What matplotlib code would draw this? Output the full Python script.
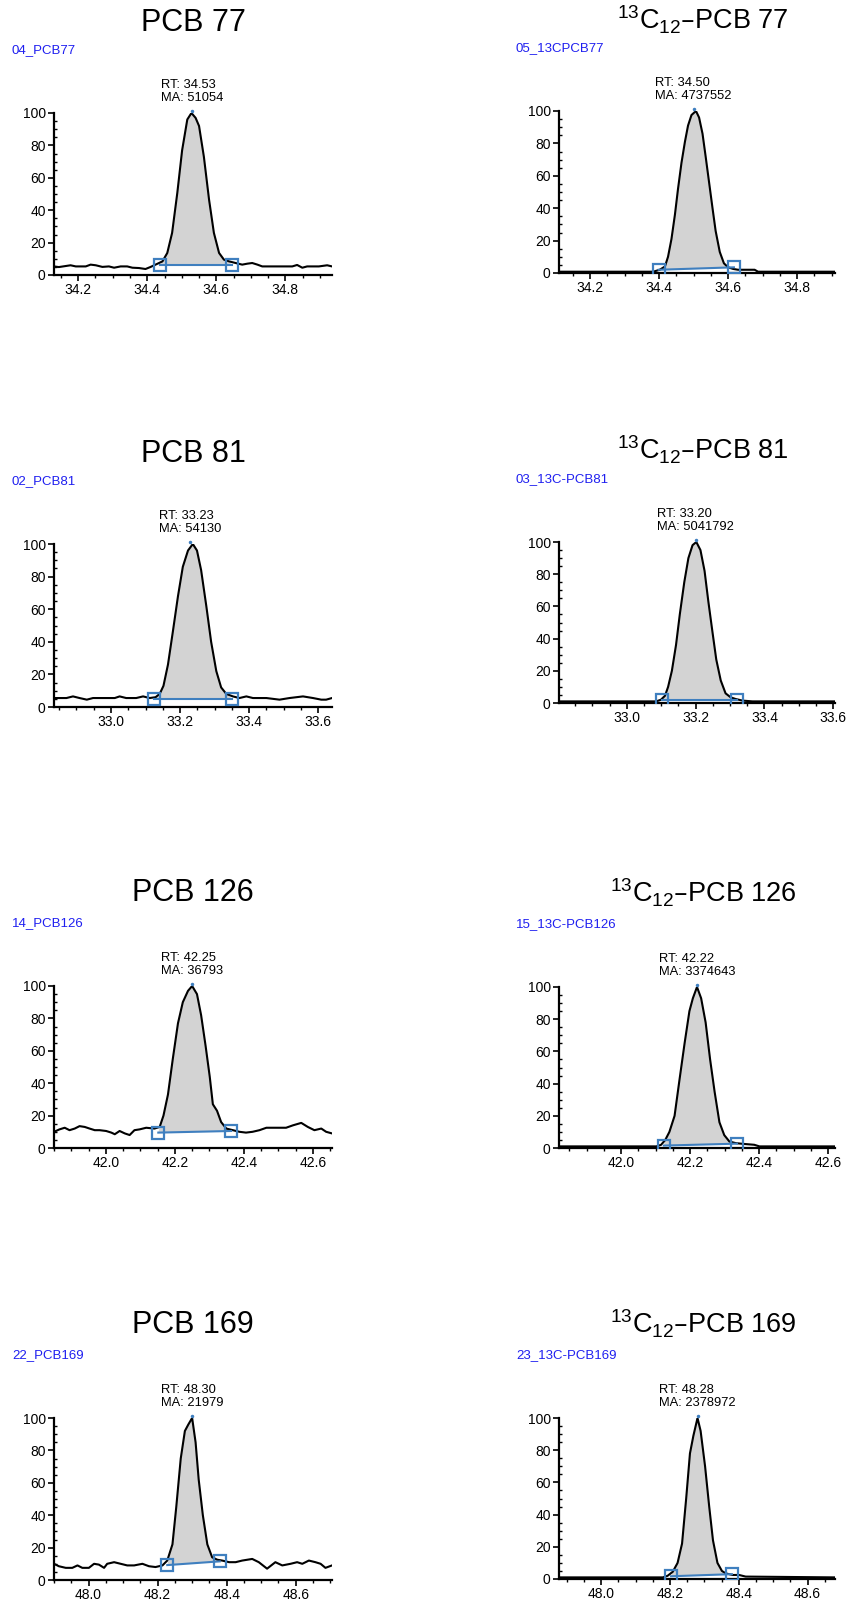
"""PCB 77/81/126/169 및 13C12 내부표준 크로마토그램 피크 재현.

출력: out.png (850 x 1602 px)
"""
import matplotlib
matplotlib.use('Agg')

import matplotlib.pyplot as plt
from matplotlib.ticker import MultipleLocator, FormatStrFormatter

plt.rcParams['font.family'] = ['Liberation Sans', 'DejaVu Sans']
plt.rcParams['axes.unicode_minus'] = False

# ── 데이터 ──────────────────────────────────────────────────────────
TITLES = ['PCB 77', r'$\mathregular{^{13}C_{12}}$–PCB 77',
          'PCB 81', r'$\mathregular{^{13}C_{12}}$–PCB 81',
          'PCB 126', r'$\mathregular{^{13}C_{12}}$–PCB 126',
          'PCB 169', r'$\mathregular{^{13}C_{12}}$–PCB 169']
CODES = ['04_PCB77', '05_13CPCB77', '02_PCB81', '03_13C-PCB81',
         '14_PCB126', '15_13C-PCB126', '22_PCB169', '23_13C-PCB169']
RT = [34.53, 34.50, 33.23, 33.20, 42.25, 42.22, 48.30, 48.28]
MA = [51054, 4737552, 54130, 5041792, 36793, 3374643, 21979, 2378972]
X_LIMITS = [(34.13, 34.935), (34.11, 34.91), (32.835, 33.64), (32.803, 33.605),
            (41.85, 42.655), (41.82, 42.62), (47.90, 48.705), (47.877, 48.68)]

# 크로마토그램 (RT [min], 상대강도 [%])
PCB77_T = [34.130, 34.144, 34.178, 34.193, 34.222, 34.236, 34.251, 34.270, 34.289,
           34.304, 34.323, 34.342, 34.357, 34.376, 34.395, 34.410, 34.424, 34.444,
           34.458, 34.472, 34.487, 34.501, 34.516, 34.528, 34.540, 34.550, 34.564,
           34.579, 34.593, 34.608, 34.622, 34.637, 34.656, 34.675, 34.690, 34.704,
           34.719, 34.733, 34.762, 34.791, 34.820, 34.834, 34.849, 34.863, 34.897,
           34.921, 34.935]
PCB77_I = [5.3, 4.9, 6.0, 5.3, 5.3, 6.4, 6.0, 5.0, 5.3,
           4.5, 5.3, 5.3, 4.5, 4.3, 3.7, 5.0, 6.4, 8.4,
           13.6, 26, 50.6, 77, 96, 100, 97, 92, 73,
           46.5, 26, 13.6, 9.5, 8.4, 7.4, 6.4, 7.0, 7.4,
           6.4, 5.3, 5.3, 5.3, 5.3, 6.2, 4.5, 5.3, 5.3,
           6.0, 5.3]

C13_PCB77_T = [34.110, 34.229, 34.325, 34.383, 34.402, 34.417, 34.426, 34.436, 34.446,
               34.455, 34.465, 34.475, 34.484, 34.494, 34.507, 34.516, 34.526, 34.535,
               34.545, 34.555, 34.564, 34.576, 34.588, 34.600, 34.615, 34.629, 34.653,
               34.677, 34.687, 34.759, 34.910]
C13_PCB77_I = [0.8, 0.8, 0.8, 0.8, 2, 4, 10, 21, 36,
               52, 68, 81, 91, 97.5, 100, 96, 86, 72,
               56, 40, 26, 13, 6, 3.5, 2.5, 2, 2,
               2, 0.8, 0.8, 0.8]

PCB81_T = [32.835, 32.871, 32.890, 32.909, 32.930, 32.948, 32.986, 33.011, 33.025,
           33.044, 33.073, 33.093, 33.112, 33.129, 33.141, 33.152, 33.165, 33.179,
           33.194, 33.208, 33.223, 33.237, 33.249, 33.261, 33.276, 33.290, 33.305,
           33.319, 33.334, 33.353, 33.372, 33.392, 33.411, 33.450, 33.488, 33.517,
           33.556, 33.585, 33.609, 33.623, 33.640]
PCB81_I = [5.5, 5.5, 6.5, 5.5, 4.5, 5.5, 5.5, 5.5, 6.5,
           5.5, 5.5, 6.5, 5.5, 6.0, 8.0, 13, 26, 46,
           68, 86, 96, 100, 96, 84, 62, 40, 22,
           12, 8, 6.5, 5.5, 6.5, 5.5, 5.5, 4.5, 5.5,
           6.5, 5.5, 4.5, 4.5, 5.5]

C13_PCB81_T = [32.803, 32.921, 33.017, 33.085, 33.099, 33.111, 33.120, 33.131, 33.143,
               33.154, 33.167, 33.179, 33.191, 33.202, 33.214, 33.226, 33.237, 33.249,
               33.260, 33.273, 33.287, 33.302, 33.316, 33.336, 33.365, 33.605]
C13_PCB81_I = [1, 1, 1, 1, 2, 4.5, 10, 20, 36,
               55, 75, 90, 98, 100, 95, 82, 63, 44,
               27, 14, 6, 3.5, 2.5, 1.5, 1, 1]

PCB126_T = [41.850, 41.866, 41.881, 41.895, 41.910, 41.924, 41.939, 41.953, 41.968,
            41.982, 42.001, 42.016, 42.026, 42.040, 42.055, 42.069, 42.083, 42.098,
            42.117, 42.141, 42.156, 42.167, 42.180, 42.194, 42.209, 42.223, 42.238,
            42.250, 42.264, 42.276, 42.289, 42.301, 42.310, 42.322, 42.334, 42.349,
            42.368, 42.387, 42.406, 42.425, 42.445, 42.465, 42.484, 42.503, 42.522,
            42.542, 42.566, 42.585, 42.604, 42.624, 42.638, 42.655]
PCB126_I = [10, 11.5, 12.5, 11, 12, 13.5, 13, 12, 11,
            11, 10.5, 9.5, 8.5, 10.5, 9, 8, 11, 11.5,
            12.5, 12, 13, 20, 33, 55, 77, 90, 97,
            100, 95, 82, 63, 44, 27, 23, 16, 12,
            11, 10, 9.5, 10, 11, 12.5, 12.5, 12.5, 12.5,
            14, 15.5, 13, 11, 12, 10, 9]

C13_PCB126_T = [41.820, 41.938, 42.034, 42.102, 42.116, 42.128, 42.140, 42.155, 42.169,
                42.184, 42.198, 42.208, 42.220, 42.232, 42.245, 42.258, 42.271, 42.285,
                42.299, 42.314, 42.333, 42.357, 42.386, 42.401, 42.620]
C13_PCB126_I = [1, 1, 1, 1, 2, 5, 10, 20, 42,
                65, 85, 93, 100, 93, 78, 55, 35, 16,
                8, 4, 3, 2.5, 2, 1, 1]

PCB169_T = [47.900, 47.914, 47.934, 47.953, 47.968, 47.982, 48.001, 48.016, 48.030,
            48.045, 48.054, 48.074, 48.093, 48.112, 48.132, 48.156, 48.175, 48.194,
            48.214, 48.228, 48.243, 48.254, 48.267, 48.279, 48.289, 48.300, 48.310,
            48.319, 48.331, 48.344, 48.358, 48.373, 48.387, 48.407, 48.426, 48.445,
            48.474, 48.493, 48.517, 48.541, 48.561, 48.585, 48.604, 48.619, 48.638,
            48.657, 48.672, 48.686, 48.705]
PCB169_I = [10, 8.5, 7.5, 7.5, 9, 7.5, 7.5, 10, 9.5,
            7.5, 10, 11, 10, 9, 9, 10, 8.5, 8,
            9, 12, 22, 45, 75, 92, 96, 100, 85,
            62, 40, 22, 14, 12.5, 12, 11, 11, 12,
            13, 11, 7, 11, 9, 10, 11, 10, 12,
            11, 10, 7.5, 9]

C13_PCB169_T = [47.877, 47.996, 48.092, 48.179, 48.193, 48.208, 48.222, 48.235, 48.247,
                48.258, 48.268, 48.280, 48.289, 48.302, 48.314, 48.325, 48.338, 48.351,
                48.362, 48.382, 48.401, 48.420, 48.680]
C13_PCB169_I = [1, 1, 1, 1, 2, 4.5, 10, 22, 50,
                78, 89, 100, 92, 70, 45, 24, 10, 5,
                3.5, 2.5, 2.5, 1.5, 1]

TRACES_T = [PCB77_T, C13_PCB77_T, PCB81_T, C13_PCB81_T,
            PCB126_T, C13_PCB126_T, PCB169_T, C13_PCB169_T]
TRACES_I = [PCB77_I, C13_PCB77_I, PCB81_I, C13_PCB81_I,
            PCB126_I, C13_PCB126_I, PCB169_I, C13_PCB169_I]

# 적분 기준선 시작/끝 (RT, 강도)
BASE_START = [(34.436, 6.0), (34.399, 2.0), (33.126, 5.2), (33.102, 2.0),
              (42.152, 9.5), (42.124, 1.5), (48.228, 9.2), (48.203, 1.7)]
BASE_END = [(34.646, 6.0), (34.617, 3.5), (33.350, 5.2), (33.321, 2.0),
            (42.363, 10.5), (42.336, 2.7), (48.380, 11.5), (48.380, 3.0)]

# ── 레이아웃 (픽셀 기준: 축 좌/우, 위/아래) ─────────────────────────────────
W_PX, H_PX = 850, 1602
AX_PX = [(54, 332, 113, 275), (559, 835, 111, 273),
         (54, 332, 544, 707), (559, 835, 542, 703),
         (54, 332, 986, 1148), (559, 835, 987, 1148),
         (54, 332, 1418, 1580), (559, 835, 1418, 1579)]
CODE_X_PX = [12, 516]
TITLE_SIZE = [22, 19.5]
TITLE_DX = [0, 6]
TITLE_DY = [82, 82, 85, 85]   # 축 상단 위 제목 기준선 거리 (행별)

BLUE = '#3f7fbf'
GREY = '#d3d3d3'

fig = plt.figure(figsize=(W_PX / 100, H_PX / 100), dpi=100)

for i in range(8):
    x0, x1, y0, y1 = AX_PX[i]
    ax = fig.add_axes([x0 / W_PX, 1 - y1 / H_PX, (x1 - x0) / W_PX, (y1 - y0) / H_PX])
    t, inten = TRACES_T[i], TRACES_I[i]
    (bs_t, bs_i), (be_t, be_i) = BASE_START[i], BASE_END[i]

    # 피크 면적 (기준선 ~ 신호)
    seg = [(tt, ii) for tt, ii in zip(t, inten) if bs_t < tt < be_t]
    poly_t = [bs_t] + [p[0] for p in seg] + [be_t]
    poly_i = [bs_i] + [p[1] for p in seg] + [be_i]
    ax.fill(poly_t, poly_i, color=GREY, zorder=1, linewidth=0)

    ax.plot(t, inten, color='black', linewidth=1.5, zorder=2)
    ax.plot([bs_t, be_t], [bs_i, be_i], color=BLUE, linewidth=1.5, zorder=3)
    ax.plot([bs_t, be_t], [bs_i, be_i], linestyle='none', marker='s', markersize=9,
            markerfacecolor='none', markeredgecolor=BLUE, markeredgewidth=1.6, zorder=4)
    ax.plot([RT[i]], [101.5], marker='o', markersize=1.5, color=BLUE, clip_on=False)

    ax.annotate(f'RT: {RT[i]:.2f}\nMA: {MA[i]}', xy=(RT[i], 100), xytext=(0, 6.5),
                textcoords='offset points', ha='center', va='bottom',
                multialignment='left', fontsize=9.3, linespacing=1.12)

    ax.set_xlim(*X_LIMITS[i])
    ax.set_ylim(0, 100)
    ax.xaxis.set_major_locator(MultipleLocator(0.2))
    ax.xaxis.set_minor_locator(MultipleLocator(0.05))
    ax.xaxis.set_major_formatter(FormatStrFormatter('%.1f'))
    ax.yaxis.set_major_locator(MultipleLocator(20))
    ax.yaxis.set_minor_locator(MultipleLocator(5))
    ax.tick_params(axis='both', which='major', direction='out', length=4,
                   width=1.2, labelsize=10, pad=2)
    ax.tick_params(axis='x', which='minor', direction='out', length=2.5, width=1)
    ax.tick_params(axis='y', which='minor', direction='in', length=2.5, width=1)
    ax.spines[['top', 'right']].set_visible(False)
    ax.spines[['left', 'bottom']].set_linewidth(1.6)
    ax.patch.set_alpha(0)

    # 제목 / 채널명
    cx = (x0 + x1) / 2 + TITLE_DX[i % 2]
    fig.text(cx / W_PX, 1 - (y0 - TITLE_DY[i // 2]) / H_PX, TITLES[i], ha='center',
             va='baseline', fontsize=TITLE_SIZE[i % 2])
    fig.text(CODE_X_PX[i % 2] / W_PX, 1 - (y0 - 63) / H_PX, CODES[i], ha='left',
             va='center', fontsize=9.5, color='#1f1ff0')

fig.savefig('out.png', dpi=100)
plt.close(fig)
